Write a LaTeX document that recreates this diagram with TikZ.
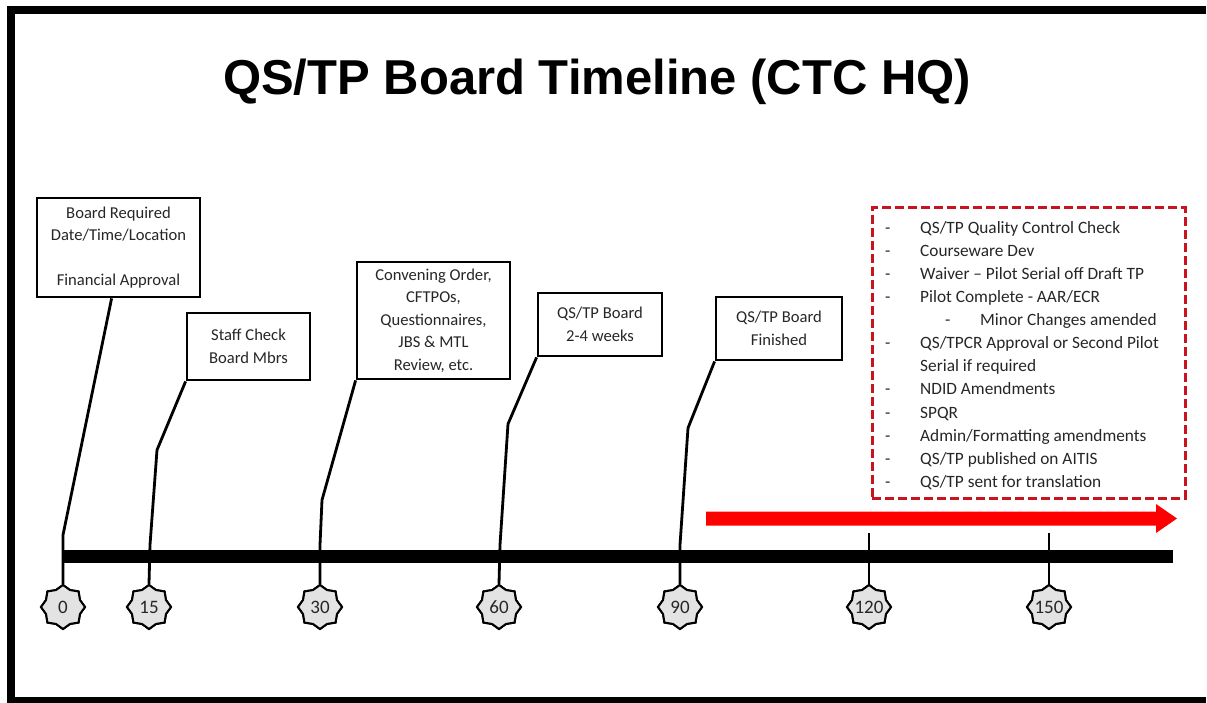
\documentclass[tikz,border=0pt]{standalone}
\usepackage{fontspec}
\setmainfont{Carlito}
\newfontfamily\titlefont{Liberation Sans}
\usetikzlibrary{shapes.geometric,calc}
\newcommand{\itm}[1]{\makebox[35pt][l]{-}#1}
\begin{document}
\begin{tikzpicture}[x=1pt,y=-1pt,
  box/.style={draw,line width=2.8pt,align=center,inner sep=0pt,text=black!85,font=\fontsize{16.6}{22.5}\selectfont},
  lead/.style={line width=2.8pt,line join=round},
  starnode/.style={star,star points=8,star point ratio=1.2,minimum size=44pt,inner sep=0pt,draw,line width=2pt,fill=gray!22},
  numtxt/.style={font=\fontsize{19}{19}\selectfont,inner sep=0pt,text=black!85},
  notebox/.style={draw={rgb,255:red,200;green,20;blue,30},line width=3pt,dash pattern=on 9pt off 4pt,inner sep=0pt}]
\useasboundingbox (0,0) rectangle (1207,703);
\clip (0,0) rectangle (1207,703);
\draw[line width=8pt] (1206,10) -- (11,10) -- (11,701) -- (1206,701);

\node[font=\titlefont\bfseries\fontsize{49}{49}\selectfont,anchor=base] (title) at (597,95) {QS/TP Board Timeline (CTC HQ)};

% boxes
\node[box,minimum width=163pt,minimum height=99pt] (b1) at (118.5,247.5) {Board Required\\Date/Time/Location\\[22.5pt]Financial Approval};
\node[box,minimum width=123pt,minimum height=67pt] (b2) at (248.5,346.5) {Staff Check\\Board Mbrs};
\node[box,minimum width=153pt,minimum height=117pt] (b3) at (433.5,320.5) {Convening Order,\\CFTPOs,\\Questionnaires,\\JBS \& MTL\\Review, etc.};
\node[box,minimum width=124pt,minimum height=63pt] (b4) at (600,324.5) {QS/TP Board\\2-4 weeks};
\node[box,minimum width=126pt,minimum height=63pt] (b5) at (779,328.5) {QS/TP Board\\Finished};

% stars
\foreach \n/\x in {0/63,15/149,30/320,60/499,90/680,120/869,150/1049}{
  \node[starnode] (t\n) at (\x,607) {};
}

% bend coordinates
\coordinate (k0) at (63,535);
\coordinate (k15a) at (157,450);
\coordinate (k15b) at (150,545);
\coordinate (k30a) at (322,500);
\coordinate (k30b) at (320,545);
\coordinate (k60a) at (508,424);
\coordinate (k60b) at (500,545);
\coordinate (k90a) at (688,428);
\coordinate (k90b) at (680,545);
\coordinate (k120) at (869,533);
\coordinate (k150) at (1049,533);

\draw[lead] ($(b1.south west)+(76,0)$) -- (k0) -- (t0.north);
\draw[lead] (b2.south west) -- (k15a) -- (k15b) -- (t15.north);
\draw[lead] (b3.south west) -- (k30a) -- (k30b) -- (t30.north);
\draw[lead] (b4.south west) -- (k60a) -- (k60b) -- (t60.north);
\draw[lead] (b5.south west) -- (k90a) -- (k90b) -- (t90.north);
\draw[lead] (k120) -- (t120.north);
\draw[lead] (k150) -- (t150.north);

% timeline bar
\coordinate (barL) at (63,556);
\coordinate (barR) at (1173,556);
\draw[line width=13pt] (barL) -- (barR);

% star labels (on top)
\foreach \n in {0,15,30,60,90,120,150}{
  \node[starnode] at (t\n) {};
  \node[numtxt] (l\n) at (t\n) {\n};
}

% red arrow
\fill[red] (706,511.5) -- (1156,511.5) -- (1156,504) -- (1177,518.5) -- (1156,533) -- (1156,525.5) -- (706,525.5) -- cycle;

% notes box
\node[notebox,minimum width=313pt,minimum height=290pt] (notes) at (1028.5,353) {};
\node[anchor=north west,inner sep=0pt,align=left,text=black!85,font=\fontsize{17.3}{23.1}\selectfont] (notetext) at (885,221) {%
\itm{QS/TP Quality Control Check}\\
\itm{Courseware Dev}\\
\itm{Waiver – Pilot Serial off Draft TP}\\
\itm{Pilot Complete - AAR/ECR}\\
\hspace*{60pt}\makebox[35pt][l]{-}Minor Changes amended\\
\itm{QS/TPCR Approval or Second Pilot}\\
\hspace*{35pt}Serial if required\\
\itm{NDID Amendments}\\
\itm{SPQR}\\
\itm{Admin/Formatting amendments}\\
\itm{QS/TP published on AITIS}\\
\itm{QS/TP sent for translation}};
\end{tikzpicture}
\end{document}
